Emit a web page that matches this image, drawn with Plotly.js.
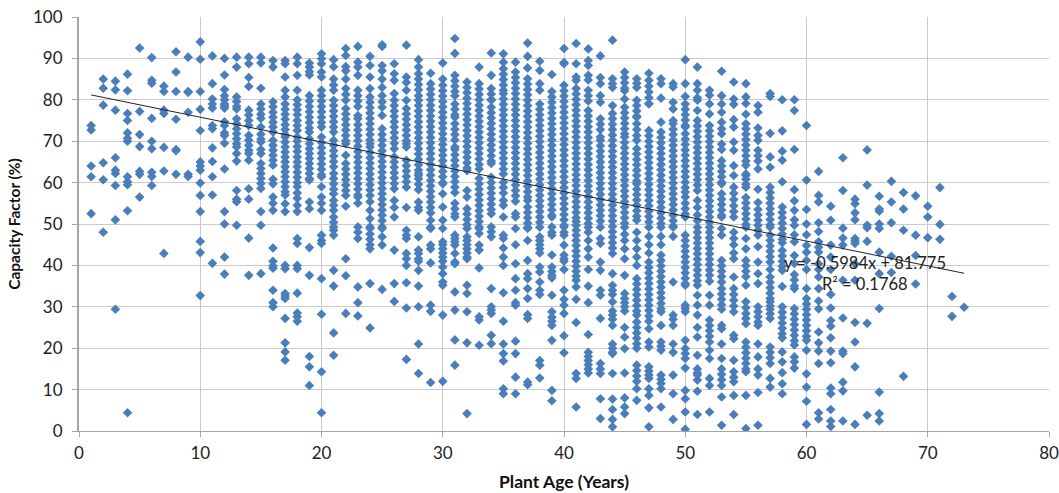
<!DOCTYPE html>
<html><head><meta charset="utf-8">
<script src="https://cdn.plot.ly/plotly-3.0.1.min.js"></script>
<style>html,body{margin:0;padding:0;background:#fff}</style></head>
<body><div id="chart" style="width:1059px;height:493px"></div>
<script>
const age01=[73.8,72.7,64,61.4,52.5];
const age02=[85,82.8,78.7,64.8,60.7,48];
const age03=[84.5,82.4,77.5,66,63,62.2,59.3,51,29.4];
const age04=[86.2,82.2,76.7,75,72,70.7,70,61.4,60.2,59.5,53.2,4.4];
const age05=[92.5,77.2,71.6,68.7,62.7,62,56.5];
const age06=[90.2,84.7,84,75.5,70,68.2,62.5,61.5,59.3];
const age07=[83.3,82,77.5,76.7,68.5,62.8,42.9];
const age08=[91.6,86.7,82,75.3,68,67.7,62];
const age09=[90.3,82,81.8,77,62,61.5];
const age10=[94,89.8,82,77.7,72.6,65,64,63,59.9,56.9,53,45.8,43.1,32.7];
const age11=[90.6,83.9,80.2,79,78,73.8,73,68.4,65.1,61.4,57,40.5];
const age12=[90,86,82.5,81,80,79,78.5,78,74.7,73.8,72,71.4,69.5,63.3,53,50,42,37.9];
const age13=[90.3,87.9,80.7,79.6,78.4,77.8,75.4,74.2,73,71.8,70.6,69.4,68.6,67,65.2,58.1,56,55.4,49.7];
const age14=[90.3,88.7,85.4,83.2,77.5,76.3,75,73.8,71.4,70.2,69,67.8,67,65.4,58.5,56,46.6,37.6];
const age15=[90.3,88.9,82.8,79,77.8,76.5,75.5,73.4,71.7,70.5,69.8,68,67,64.6,63.4,62.2,61,59.8,58.6,53,49.7,38];
const age16=[89.5,87.9,79.5,78.3,77,75.8,74.6,73.4,72.2,70.2,69,67.8,66.6,65.4,64.2,60.8,59.7,56.5,55,53.3,44.2,41,39.9,39.3,34,31,30];
const age17=[89.5,88.7,85.5,82.3,80.7,79,77.7,76.5,75.3,74,72.8,71.6,71,69.8,68.6,67.4,66.2,65,63.8,62.6,61.4,60.2,59,57.8,57,54.9,53,40,39.2,33.2,32.6,32,27.2,21.3,19.1,17.1];
const age18=[90.3,88.7,85.9,82.3,80,78.8,77.6,76.4,75,73.8,72.6,71,70,68.7,67.5,66.2,65,63.8,62.5,61.3,60,59,57.5,56.2,54.5,53,46.5,45.3,40,39.2,33.3,28.5,27.6,26.5];
const age19=[88.9,87.9,86.8,86,81,79.7,78.4,77.1,75.8,74.5,73.2,72.2,70.6,69.4,68.2,67,65.8,64.6,63.4,62.2,61,60.6,55.3,53.7,44.3,37.6,18,15.5,11];
const age20=[91.1,89.9,88.7,86.7,85.5,82.3,81,79.7,78.4,77.1,75.8,74.5,73.4,71,69.7,68.4,67.1,65.8,64.5,63.2,61.9,61.4,59,56.5,55,53.3,47.3,46,45.3,36.8,28.2,14.3,4.4];
const age21=[89.7,88,85,83.6,82.3,79.9,78.6,77.3,76,74.7,73.4,72.2,70.2,69,67.7,66.4,65.1,63.8,62.2,61,59.7,58.4,57.3,55.7,54.5,53.3,51.7,50.4,49.3,48.5,47.3,38.8,35,23.7,18.3];
const age22=[92.4,90.7,88,87,85,82.7,81.3,79.9,77.9,76.6,75.3,74,72.7,71.4,70.1,69.4,66.6,64.6,63.3,62,60.7,59.4,58.1,56.9,54.3,41.6,37.5,28.4];
const age23=[92.9,89.1,87.9,85.9,82.3,81,79.7,78.4,76.2,75.4,74,72.7,71.4,70.1,68.8,67.5,66.2,64.9,63.6,62.3,61,59.7,58.4,57,56.5,55,49.3,48,46.5,34.8,31,27.8];
const age24=[90.5,88.3,85.5,82.7,80.7,79.4,78.1,76.8,75.5,74.2,72.9,71.6,70.3,69.4,68.6,67.3,66,64.7,63.4,62.1,60.8,59.5,58.2,56.9,55.4,53.3,51.3,49.3,48.9,47.6,46.3,45,44,35.6,24.9];
const age25=[93.3,92.9,88.3,87,85,83,81,79.5,78.2,76.2,73,71.6,70.3,69,67.7,66.4,65.1,63.8,62.5,61.2,59.9,58.6,57.3,56,54.7,53.4,52.1,50.8,49.3,48.9,46.9,44.9,34.2];
const age26=[88.7,86.3,84.7,81.5,79.9,78.6,77.3,76,74.7,73.4,72.1,70.8,69.5,68.2,66.2,65,63.7,62.4,61.1,59.8,58.5,55.7,54,51.7,43.7,35.6,31.3];
const age27=[93.2,85.5,84.2,82.3,79.9,77.9,76.6,75.3,74,72.7,71.4,70.1,69.4,68.6,65.4,64.1,62.8,61.5,60.2,58.9,54,48.5,47.3,46.5,42.9,41.6,40,35.8,29.7,17.3];
const age28=[89.7,87.9,86.3,85,83.7,82.4,81,79.9,78.6,77.3,76,74.7,73.4,72.1,70.8,69.5,68.2,66.9,65.6,64.3,63,61.7,62.2,60.9,59.6,58.3,55.3,54,53.3,46.9,43.7,42.9,41.6,41,38.8,35,30,21,13.9];
const age29=[86.4,83.9,82.6,81.3,80,78.7,77.4,76.1,74.8,73.5,72.2,70.9,69.6,68.3,67,65.7,64.4,63.1,61.8,60.5,59.2,57.9,56.6,55.3,54,52.7,50.9,49.2,48.9,44.9,44,40.6,30.4,28.9,11.7];
const age30=[88.9,85,83.5,82.2,80.9,79.6,78.3,77,75.7,74.4,73.1,71.8,70.5,69.2,67.9,66.6,65.3,64,62.7,61.4,60,59.7,57.3,54.1,50.9,48.9,45.7,45,44,43,42,41,39.6,38,36,35.2,28,12];
const age31=[94.8,91.2,85.9,84.6,83.3,82,81,79,77.7,76.4,75.8,74.2,72.9,71.6,70.3,68.6,68,66.7,65.4,64.1,62.8,61.5,60.2,58.9,57.6,55,53.7,52.4,51.7,47.3,46.5,45.7,44.9,42.9,40.8,40.4,33.6,29.2,22,15.9];
const age32=[84.3,83,81.7,80.4,79.1,77.8,76.5,75.2,73.9,72.6,71.3,70,68.7,67.4,66.1,64.8,63.5,62.9,58.1,56.5,53.7,52.4,51.1,49.8,48.9,46.9,46,45,44,43,42,41.6,35.2,33.2,28.8,21.3,4.2];
const age33=[87.9,83.9,82.6,81.3,80,78.7,77.4,76.1,74.8,73.5,72.2,70.9,69.6,68.3,67,65.7,64.4,63.3,61,59.7,58.4,57.1,55.8,54.5,53.2,51.9,50.6,49.3,48.9,47.7,44.9,43.7,39.4,27.6,26.8,20.7];
const age34=[91.3,85.9,82.7,81.4,80.1,79.9,78.2,76.9,75.6,74.3,73,71.7,70.4,69.1,67.8,66.5,65.2,64.6,61.3,60,58.7,57.4,56.1,54.8,53.5,52.5,49.3,48.1,46.9,34.4,30,29.2,28.4,23.1,21.1];
const age35=[91.1,89.1,87.5,86.2,84.9,83.6,82.3,81.5,80.2,78.9,77.6,76.3,75,73.7,72.4,71.1,69.8,68.5,67.2,65.9,64.6,63.3,62.1,60.1,58.8,57.5,55.7,54.5,51.7,47.3,46.5,44.2,42,40,33.4,26.5,21,18.7,16.9,10.2,9];
const age36=[89.1,86.7,85.4,84.1,82.8,81.5,80.2,78.9,77.6,76.3,75,73.7,72.4,71.1,69.8,68.5,67.2,65.9,64.6,63.3,62,60.7,59.4,58.1,56.8,55.5,52.5,51.7,48.9,45,40.4,36.8,34,31,30.4,21.7,18.7,13,9];
const age37=[93.7,90.5,87.7,85.1,83.8,82.5,81.2,79.9,78.6,77.3,76,74.7,73.4,72.1,70.8,69.5,68.2,66.9,65.6,64.3,63,61.7,60.4,59.1,57.8,56.5,55.7,54.1,52.8,51.5,50.2,49.2,48.9,46,41.2,38,36.8,34.4,32,28.1,27.2,11.8,11.2];
const age38=[89.3,87.1,83.9,82.3,79,77.7,76.4,75.1,73.8,72.5,71.2,69.9,68.6,67.3,66,64.7,63.4,62.1,60.8,59.5,58.2,56.9,55.6,54.3,53,51.7,50.4,49.2,46.9,46,45,44,43,39.6,38.4,36,34,33,17,15.9,12.8];
const age39=[86.1,82,80.7,79.4,78.1,76.8,75.5,74.2,72.9,71.6,70.3,69,67.7,66.4,65.1,63.8,62.5,61.2,59.9,58.6,57.3,56,54.7,53.4,52.1,51.7,49.3,48,47.3,42.5,39.6,38.5,37.6,37,32.8,28.8,27.5,26.5,25.5,21.9,9.8,7.3];
const age40=[92.4,89,88.7,83.5,82.2,80.9,79.6,78.3,77,75.7,74.4,73.1,71.8,70.5,69.2,67.9,66.6,65.3,64,62.7,61.4,60.1,58.8,57.5,56.2,54.9,53.6,52.3,51,49.7,49.3,48,47.3,44.9,42.5,41.6,41,39,34,31.8,30.4,28.4,23,18.9];
const age41=[93.6,88.7,85.5,84.7,82.7,81.4,80.1,78.8,77.5,76.2,74.9,73.6,72.3,71,69.7,68.4,67.1,65.8,64.5,63.2,61.9,60.6,59.3,58,56.7,55.4,54.1,52.8,51.5,50.6,49.7,48.5,47.3,46,44.8,43.5,42.3,41,39.8,38.6,37.4,36.4,34.8,31.8,26.2,13.9,12.7,5.8];
const age42=[92.3,89.5,88.3,85.9,84.8,82.3,81,79.7,77.4,76.1,74.8,73.5,72.2,70.9,69.6,68.3,67,65.7,64.4,63.1,61.8,60.5,59.2,57.9,56.6,55.3,54,52.7,51.4,50.1,49.2,48,46,44,42,39,35,31,23.3,19,18,17,16,15,14];
const age43=[90.6,85.4,83.9,81,79.4,75.4,74.1,72.8,71,70.2,68.9,67.6,66.3,65,63.7,62.4,61.1,59.8,58.5,57.2,55.9,54.6,53.3,52,50.7,49.2,46.5,45.3,40.8,38.8,34,32.8,27.2,16.3,15,13.9,7.8,3];
const age44=[94.4,85.1,83.9,83,78.6,76.7,75.4,74.1,72.8,71.5,70.2,68.9,67.6,66.3,65,63.7,62.4,61.1,59.8,58.5,57.2,55.9,54.6,53.3,52,50.7,49.4,48.1,46.8,45.5,44.2,42.9,38,35.2,34,33,31.2,29,28,27,25.5,21,20,19,18.7,13.9,7.7,5.2,2.8,1];
const age45=[86.7,85.4,84.1,82.8,82.2,80.2,78.2,76.9,75.6,74.3,73,71.8,71,69.7,68.4,67.1,65.8,64.5,63.2,61.9,60.6,59.3,58,56.7,55.4,54.1,52.8,51.5,50.2,49.2,47.5,46,44,41.6,37.6,33.2,32,31,30,29,25,22.7,19.9,14,8,5.8,4.2];
const age46=[85.1,84,83,79.9,78.6,77.3,76,75.8,74.2,72.8,71.4,70.2,68.2,66.9,65.6,64.3,63,61.7,60.4,59.7,58.4,57.1,55.8,54.5,53.2,51.9,50.9,48,46,44,42,40,36.8,35.5,34.2,32.9,31.6,30.3,29,28,26.3,25,23.7,22.4,21.1,20,15.9,14.6,13.3,12,10.2,7.4];
const age47=[86.4,84.7,83.3,81.9,80.5,79.1,79,72.6,71.3,70,68.7,67.4,66.1,64.8,63.5,62.2,60.9,59.6,58.3,57,55.7,54.4,53.1,51.8,50.5,49.2,47,45,43,40.8,39.5,38.2,36.9,35.6,34.3,33,31.7,30.4,29.1,27.8,26.5,24.7,21.5,20.3,15.5,14.5,13.5,12.7,10.2,8.6,5.6,1];
const age48=[85.1,83.9,80.4,74.6,72.2,70.9,69.6,68.3,67,65.7,64.4,63.1,61.8,60.5,59.2,57.9,56.6,55.3,54,52.7,51.4,50.1,49.2,47,45,42.5,41.2,39.9,38.6,37.3,36,34.7,33.4,32.1,30.8,29.5,28.8,25.5,21.5,20.5,19.5,13.5,12.5,11.5,10.2,5.8];
const age49=[83.9,83.1,79.4,77.8,75,74.2,72.9,71.6,70.3,69,67.7,66.4,65.1,63.8,62.5,61.2,59.9,58.6,57.3,56,54.7,53.4,52.1,50.8,49.5,49.2,47,36,28,27,25.5,21,19,13.5,9,2.8];
const age50=[89.7,83.9,80.8,79,77.7,76.4,75.1,73.8,73.4,71.8,70.5,69.2,67.9,66.6,65.3,64,62.7,61.4,60.1,58.8,57.7,56.5,55,53.7,52.4,51.7,47.3,46,44.7,43.4,42.1,40.8,39.5,38.2,36.9,35.6,35.2,30.4,29.6,28.8,21.9,19.9,18.7,17.5,15.2,9.8,7.8,4.6,0.4];
const age51=[87.9,83.9,82.3,80.5,79.9,77.4,75,73.7,72.4,71.1,69.8,68.5,67.2,65.9,64.6,63.3,62,60.7,59.4,58.1,55.7,54,52.2,50.8,49.2,48,46.7,45.4,44.1,42.8,41.5,40.2,38.9,37.6,36.3,35.2,32.8,30.4,28,25,22.7,18.3,15,14,13.5,12.3,9.6,4];
const age52=[82.3,81.1,79,76.6,73.8,72.5,71.2,69.9,68.6,67.3,66,64.7,63.4,62.1,60.8,59.5,58.2,56.9,55.6,54.3,53,51.7,50.4,49.2,48,46.7,45.4,44.1,42.8,41.5,40.2,38.9,37.6,36.2,32.8,30.4,26.8,25.5,24.2,22.9,21.5,19.5,17.5,12.7,11,4.6];
const age53=[86.9,81,79,77,74.6,73,71.8,69.3,68,65.3,64,62.7,61.4,60.1,59.7,57.3,56,54.7,53.4,52.1,51.7,48.9,47.3,41.2,39.9,38.6,37.3,36,34.4,33.1,31.8,30.5,29.4,25.5,24.7,21,17.5,15,13.7,12.4,11,8.2,1.4];
const age54=[84.3,80.2,78.9,75.2,73.4,69.8,67.8,64.1,61.7,58.9,57.4,55.9,54.4,53,51.7,48,46.5,45,43,41.6,37.2,34.4,33,31.6,30.2,28.8,23.1,22.3,17.1,14.3,13,11.9,8.6,4];
const age55=[83.9,80.7,79.1,76.5,74.2,73,71.7,70.4,69.1,67.8,66.5,65.2,64.2,62.1,60.8,59.6,58.9,61.7,56.4,55.1,53.8,52.5,51.2,49.9,49.2,46.5,44,41.2,39.9,38.6,37.3,35.2,31.2,29.8,28.4,27.2,25.9,21.5,20.2,18.9,17.6,16.3,15,14.3,8.6,0.6];
const age56=[78.6,77,73.2,71.4,70.2,67.8,66.5,65.2,63.3,58.4,55.2,53.5,52.2,50.9,49.7,48.5,47.3,44.5,40.8,38,35.6,30,28.8,27.6,26.3,25.5,21,17.9,15,13.5,9.3,1.4];
const age57=[81.5,80.8,71.9,66.2,63.7,58.9,57.6,56.3,55,53.7,52.4,51.1,49.8,49.2,47.3,46,44.7,43.4,42.1,40.8,39,37.2,35.9,34.6,33.3,32,31.2,30.2,29.4,28.3,27.2,20.3,19,17.7,16.3,12.7,10.6];
const age58=[80,72.5,67.6,65.4,60.2,54.1,52.8,51.5,50.2,48.9,47.6,46.3,45.5,43.6,42.3,41,39.8,38.8,34.9,30,28.7,27.4,26.1,24.8,23.5,22.5,19.1,16.7,14.1,11.4,9];
const age59=[80,77.4,68,58.3,55.6,53.3,51,49.7,47.4,45.7,42.4,40.5,37.8,36.5,35,34.4,29.6,28.3,27,25.7,24.4,23.1,21.8,20.8,17.9,16.7,15.2];
const age60=[73.8,60.6,53.5,50,47.4,44.8,43.2,41.2,39,34.4,32,30.7,29.4,28.1,26.8,25.5,24.2,22.9,21.9,19.5,13.8,10.6,7.2,1.6];
const age61=[62.7,56.9,55.3,50.3,48.2,45.7,44.4,43.2,40.4,39,37.2,34.4,31.4,29.5,23.9,21.3,19.3,16.3,4.4,2.9];
const age62=[54.3,50.9,44.9,42,39,33,29.7,26.7,25.3,22.5,19.3,16.5,10.4,9,5.2,2.4,1.1];
const age63=[66,58.1,49,46.6,44.9,36.4,27.3,19.3,18.7,11.8,9.7,2.4];
const age64=[56,54.9,52.7,51,46.5,45.9,45.3,40.4,36.4,26.2,21.5,15.5,1.6];
const age65=[67.9,59.4,49.7,49.1,45.8,26,3.8];
const age66=[56.7,53.6,53.1,50,48.9,43.2,38,29.6,9.4,4.2,2.4];
const age67=[60.3,55.3,50.3,42.2,38.3];
const age68=[57.6,53.6,48.5,13.2];
const age69=[56.8,47.3,42.4,35.5];
const age70=[54.3,51.7,46.7];
const age71=[58.8,49.9,46.3];
const age72=[32.5,27.7];
const age73=[29.9];
const ageColumns=[age01,age02,age03,age04,age05,age06,age07,age08,age09,age10,age11,age12,age13,age14,age15,age16,age17,age18,age19,age20,age21,age22,age23,age24,age25,age26,age27,age28,age29,age30,age31,age32,age33,age34,age35,age36,age37,age38,age39,age40,age41,age42,age43,age44,age45,age46,age47,age48,age49,age50,age51,age52,age53,age54,age55,age56,age57,age58,age59,age60,age61,age62,age63,age64,age65,age66,age67,age68,age69,age70,age71,age72,age73];
const trendAge=[1,73];
const trendCapacity=[81.18,38.09];
const xValues=[],yValues=[];
ageColumns.forEach((col,i)=>col.forEach(v=>{xValues.push(i+1);yValues.push(v);}));
const font="Lato, Carlito, sans-serif";
Plotly.newPlot('chart',[
 {type:'scatter',mode:'markers',x:xValues,y:yValues,hoverinfo:'skip',
  marker:{symbol:'diamond',size:7.4,color:'#4a7ebb',line:{width:0}}},
 {type:'scatter',mode:'lines',x:trendAge,y:trendCapacity,hoverinfo:'skip',
  line:{color:'#222222',width:1}}
],{
 width:1059,height:493,showlegend:false,
 paper_bgcolor:'#fff',plot_bgcolor:'#fff',
 margin:{l:79,r:10,t:17,b:62},
 font:{family:font,color:'#222',size:15},
 xaxis:{range:[0,80],tick0:0,dtick:10,showgrid:true,gridcolor:'#cbcbcb',gridwidth:1,zeroline:false,
  showline:true,linecolor:'#a6a6a6',linewidth:1,ticks:'outside',ticklen:5,tickcolor:'#a6a6a6',
  ticklabelstandoff:2,
  tickfont:{family:font,size:17,color:'#222'},
  title:{text:'Plant Age (Years)',font:{family:font,size:17.5,color:'#111',weight:700},standoff:13}},
 yaxis:{range:[0,100],tick0:0,dtick:10,showgrid:true,gridcolor:'#cbcbcb',gridwidth:1,zeroline:false,
  showline:true,linecolor:'#a6a6a6',linewidth:2,ticks:'outside',ticklen:5,tickcolor:'#a6a6a6',
  ticklabelstandoff:6,
  tickfont:{family:font,size:17,color:'#222'},
  title:{text:'Capacity Factor (%)',font:{family:font,size:15.5,color:'#111',weight:700},standoff:9}},
 annotations:[
  {x:64.8,y:40.7,xref:'x',yref:'y',text:'y = -0.5984x + 81.775',showarrow:false,font:{family:font,size:16.5,color:'#222'}},
  {x:64.8,y:35.4,xref:'x',yref:'y',text:'R² = 0.1768',showarrow:false,font:{family:font,size:16.5,color:'#222'}}
 ]
},{staticPlot:true,displayModeBar:false});
</script></body></html>
